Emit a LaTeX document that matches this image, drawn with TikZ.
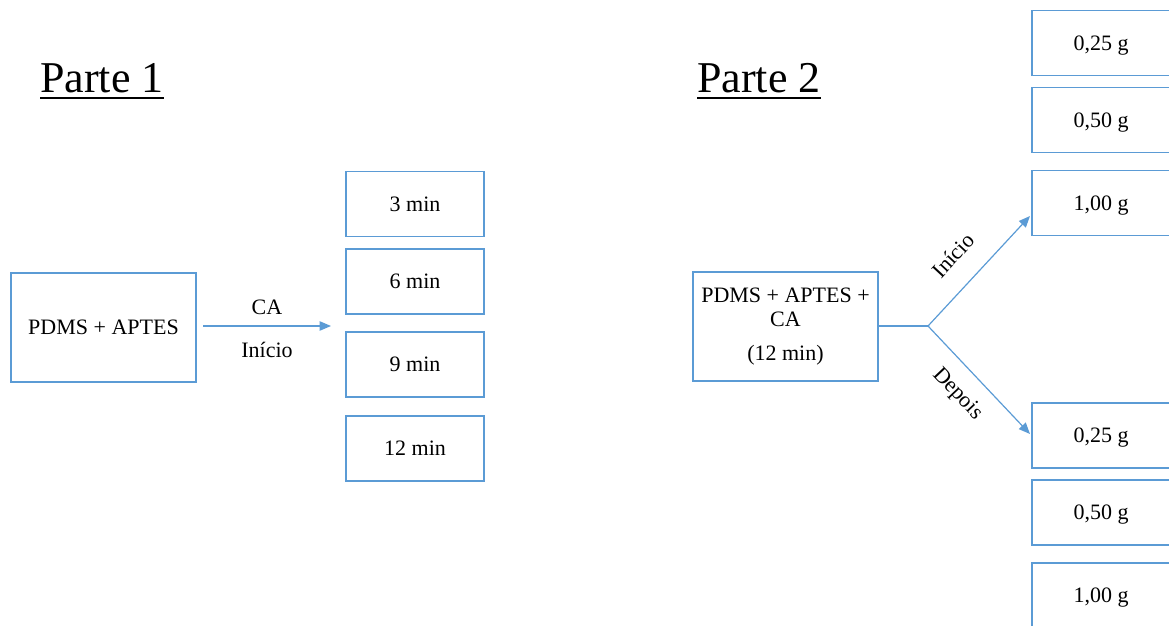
\documentclass[tikz,border=0pt]{standalone}
\usepackage{fontspec}
\setmainfont{Liberation Serif}
\usetikzlibrary{arrows.meta}
\definecolor{officeblue}{HTML}{5B9BD5}
\begin{document}
\begin{tikzpicture}[x=0.75pt,y=-0.75pt,
  boxtext/.style={font=\fontsize{16.5}{18}\selectfont},
  smallbox/.style={draw=officeblue,line width=0.9pt,minimum width=103.5pt,minimum height=48.75pt,inner sep=0pt,boxtext,text height=10.9pt,text depth=0pt},
  bigbox/.style={draw=officeblue,line width=0.9pt,minimum width=138.75pt,minimum height=81.75pt,inner sep=0pt,boxtext,align=center},
  conn/.style={draw=officeblue,line width=0.9pt},
  tip/.style={-{Triangle[length=8.5pt,width=7pt]}},
  title/.style={font=\fontsize{33}{36}\selectfont,inner sep=0pt,anchor=base west},
  lbl/.style={boxtext,inner sep=0pt}]
\useasboundingbox (0,0) rectangle (1169,625);
\clip (0,0) rectangle (1169,625);
% titles
\node[title] (t1) at (40,92) {Parte 1};
\node[title] (t2) at (697,92) {Parte 2};
\draw[line width=1.5pt] ([yshift=-4.5pt]t1.base west) -- ([yshift=-4.5pt]t1.base east);
\draw[line width=1.5pt] ([yshift=-4.5pt]t2.base west) -- ([yshift=-4.5pt]t2.base east);
% Part 1
\node[bigbox] (p1) at (103.5,327.5) {PDMS + APTES};
\node[smallbox] (m3) at (415,204) {3 min};
\node[smallbox] (m6) at (415,281.5) {6 min};
\node[smallbox] (m9) at (415,364.5) {9 min};
\node[smallbox] (m12) at (415,448.5) {12 min};
\coordinate (a1s) at (203,326);
\coordinate (a1e) at (331,326);
\draw[conn,tip] (a1s) -- node[lbl,above=8pt] {CA} node[lbl,below=11.5pt] {Início} (a1e);
% Part 2
\node[bigbox] (p2) at (785.5,326.5) {PDMS + APTES +\\ CA\\[7.5pt] (12 min)};
\node[smallbox] (g1) at (1101,43) {0,25 g};
\node[smallbox] (g2) at (1101,120) {0,50 g};
\node[smallbox] (g3) at (1101,203) {1,00 g};
\node[smallbox] (g4) at (1101,435.5) {0,25 g};
\node[smallbox] (g5) at (1101,512.5) {0,50 g};
\node[smallbox] (g6) at (1101,595.5) {1,00 g};
\coordinate (br) at (928,326);
\coordinate (up) at (1030,216);
\coordinate (dn) at (1030,434);
\draw[conn] (p2.east |- br) -- (br);
\draw[conn,tip] (br) -- node[lbl,sloped,pos=0.46,above=16pt] {Início} (up);
\draw[conn,tip] (br) -- node[lbl,sloped,pos=0.47,below=11.5pt] {Depois} (dn);
\end{tikzpicture}
\end{document}
